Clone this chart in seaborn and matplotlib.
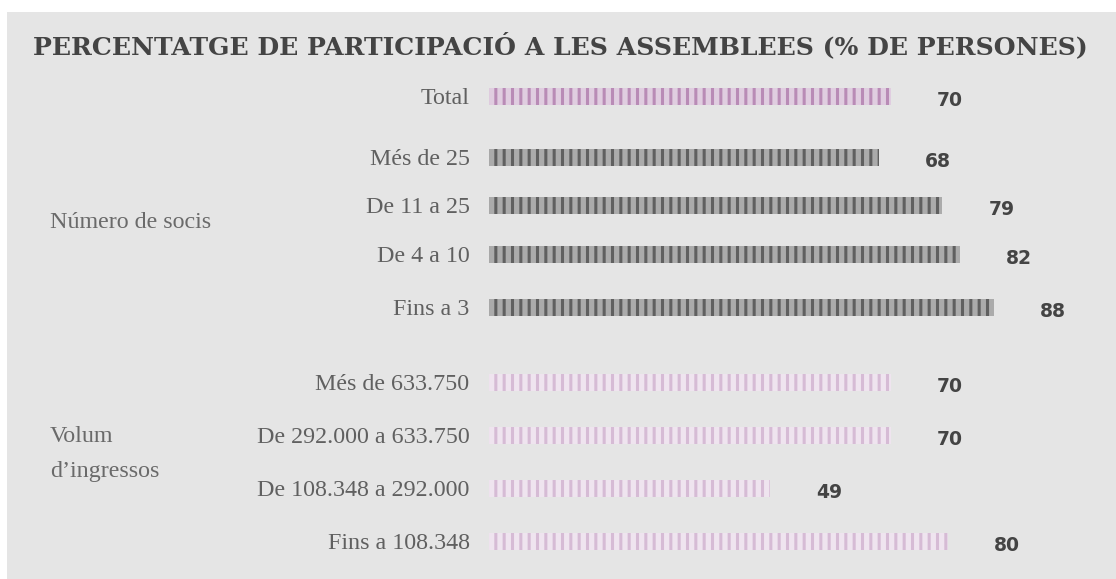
import matplotlib
matplotlib.use("Agg")
import matplotlib.pyplot as plt
import seaborn as sns
import pandas as pd
from matplotlib.patches import Rectangle

# ---- data ----
title = "PERCENTATGE DE PARTICIPACIÓ A LES ASSEMBLEES (% DE PERSONES)"
categories = ["Total",
              "Més de 25", "De 11 a 25", "De 4 a 10", "Fins a 3",
              "Més de 633.750", "De 292.000 a 633.750", "De 108.348 a 292.000", "Fins a 108.348"]
values = [70, 68, 79, 82, 88, 70, 70, 49, 80]
groups = ["Total", "Socis", "Socis", "Socis", "Socis",
          "Ingressos", "Ingressos", "Ingressos", "Ingressos"]
group_labels = {"Socis": ["Número de socis"], "Ingressos": ["Volum", "d’ingressos"]}

# ---- styles ----
W, H, DPI = 1116, 579, 100
face = {"Total": "#e0cde0", "Socis": "#ababab", "Ingressos": "#efe4ef"}
stripe = {"Total": "#b98bb6", "Socis": "#606060", "Ingressos": "#d6bbd5"}
row_px = [96.5, 157, 205, 254, 307, 382, 435, 488, 541]   # layout rows (pixels)
group_label_px = {"Socis": [222], "Ingressos": [437, 471]}
bar_px = 17
x0_px = 489
px_per_unit = 5.74
label_font = "Liberation Serif"
label_size = 17.3

sns.set_theme(style="white")
plt.rcParams["hatch.linewidth"] = 2.2

df = pd.DataFrame({"cat": categories, "val": values, "grp": groups, "y": row_px})

fig = plt.figure(figsize=(W / DPI, H / DPI), dpi=DPI)
fig.patch.set_facecolor("white")
fig.patches.append(Rectangle((7 / W, 0), 1 - 7 / W, 1 - 12 / H, transform=fig.transFigure,
                             facecolor="#e5e5e5", edgecolor="none", zorder=-10))

ax = fig.add_axes([x0_px / W, 0, 1 - x0_px / W, 1])
ax.set_facecolor("none")
ax.set_zorder(5)

for g in ["Total", "Socis", "Ingressos"]:
    sub = df[df.grp == g]
    ys = sorted(sub.y)
    gap = min((b - a for a, b in zip(ys, ys[1:])), default=1)
    n_before = len(ax.patches)
    sns.barplot(data=sub, x="val", y="y", orient="h", native_scale=True,
                color=face[g], width=bar_px / gap, saturation=1, ax=ax, errorbar=None)
    for p in ax.patches[n_before:]:
        p.set_facecolor(face[g])
        p.set_hatch("||")
        p.set_edgecolor(stripe[g])
        p.set_linewidth(0)

ax.set_xlim(0, (W - x0_px) / px_per_unit)
ax.set_ylim(H, 0)
sns.despine(ax=ax, left=True, bottom=True)
ax.set_xticks([])
ax.set_xlabel("")
ax.set_ylabel("")
ax.set_yticks(row_px, labels=categories)
ax.tick_params(axis="y", length=0, pad=14)
for t in ax.get_yticklabels():
    t.set_fontfamily(label_font)
    t.set_fontsize(label_size)
    t.set_color("#606060")

# value labels
for v, y in zip(values, row_px):
    ax.annotate(f"{v}", xy=(v, y), xytext=(33, -3), textcoords="offset points",
                ha="left", va="center", fontsize=13.5, fontweight="bold",
                family="DejaVu Sans", color="#444444")

# group labels
for g, lines in group_labels.items():
    for line, ypx in zip(lines, group_label_px[g]):
        fig.text(50 / W, 1 - ypx / H, line, ha="left", va="center",
                 fontsize=label_size, family=label_font, color="#6a6a6a")

# title, fitted to the reference width
t = fig.text(33 / W, 1 - 46 / H, title, ha="left", va="center", fontsize=17,
             fontweight="bold", family="DejaVu Serif", color="#444444")
r = fig.canvas.get_renderer()
w = t.get_window_extent(r).width
t.set_fontsize(17 * 1059 / w)

fig.savefig("out.png", dpi=DPI)
